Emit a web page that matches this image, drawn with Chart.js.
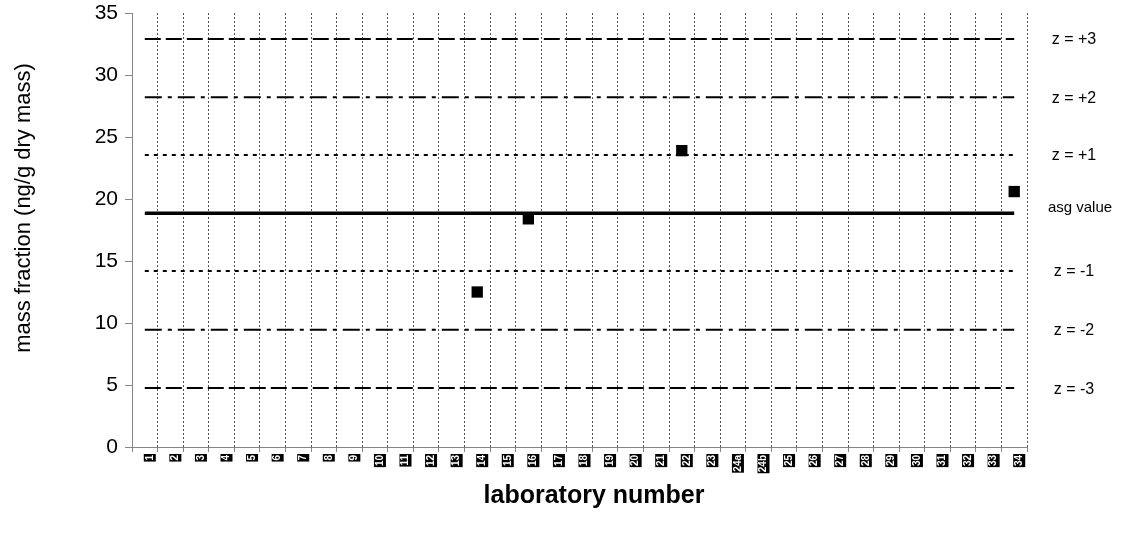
<!DOCTYPE html>
<html>
<head>
<meta charset="utf-8">
<script src="https://cdn.jsdelivr.net/npm/chart.js@4/dist/chart.umd.min.js"></script>
<style>
  body { margin: 0; background: #fff; }
</style>
</head>
<body>
<canvas id="chart" width="1128" height="541"></canvas>
<script>
// laboratory numbers on the x axis
const labs = ['1', '2', '3', '4', '5', '6', '7', '8', '9', '10', '11', '12', '13', '14', '15', '16',
  '17', '18', '19', '20', '21', '22', '23', '24a', '24b', '25', '26', '27', '28', '29', '30',
  '31', '32', '33', '34'];

// reported results
const resultLabs = ['14', '16', '22', '34'];
const results = [12.5, 18.4, 23.9, 20.6];

// assigned value and z-score limits
const refNames = ['z = +3', 'z = +2', 'z = +1', 'asg value', 'z = -1', 'z = -2', 'z = -3'];
const refValues = [32.9, 28.2, 23.55, 18.85, 14.2, 9.45, 4.75];
const refDash = [[16, 5], [17, 6, 4, 6], [4, 5], [], [4, 5], [17, 6, 4, 6], [16, 5]];

const yTicks = [0, 5, 10, 15, 20, 25, 30, 35];

const xTitle = 'laboratory number';
const yTitle = 'mass fraction (ng/g dry mass)';

const first = labs[0];
const last = labs[labs.length - 1];

const refSets = refNames.map((name, i) => ({
  label: name,
  data: [{ x: first, y: refValues[i] }, { x: last, y: refValues[i] }],
  borderColor: '#000',
  borderWidth: name === 'asg value' ? 3.5 : 2,
  borderDash: refDash[i],
  pointRadius: 0,
  fill: false,
  order: 2
}));

const pointSet = {
  label: 'results',
  data: resultLabs.map((l, i) => ({ x: l, y: results[i] })),
  showLine: false,
  pointStyle: 'rect',
  pointRadius: 8,
  backgroundColor: '#000',
  borderWidth: 0,
  order: 1
};

// axis titles and z labels to the right of the plot
const sideLabels = {
  id: 'sideLabels',
  afterDraw(chart) {
    const ctx = chart.ctx;
    const y = chart.scales.y;
    ctx.save();
    ctx.fillStyle = '#000';
    ctx.textAlign = 'center';
    ctx.textBaseline = 'middle';
    refNames.forEach((name, i) => {
      if (name === 'asg value') {
        ctx.font = '15px "Liberation Sans", Arial, sans-serif';
        ctx.fillText(name, 1080, y.getPixelForValue(refValues[i]) - 5);
      } else {
        ctx.font = '16px "Liberation Sans", Arial, sans-serif';
        ctx.fillText(name, 1074, y.getPixelForValue(refValues[i]) + 1);
      }
    });

    ctx.font = 'bold 25px "Liberation Sans", Arial, sans-serif';
    ctx.fillText(xTitle, 594, 496);

    ctx.translate(24, 208);
    ctx.rotate(-Math.PI / 2);
    ctx.font = '22px "Liberation Sans", Arial, sans-serif';
    ctx.fillText(yTitle, 0, 0);
    ctx.restore();
  }
};

new Chart(document.getElementById('chart'), {
  type: 'line',
  data: {
    labels: labs,
    datasets: [pointSet, ...refSets]
  },
  options: {
    responsive: false,
    animation: false,
    layout: { padding: { left: 0, right: 101, top: 13, bottom: 0 } },
    plugins: {
      legend: { display: false },
      tooltip: { enabled: false }
    },
    scales: {
      x: {
        type: 'category',
        offset: true,
        afterFit: (s) => { s.height = 94; },
        grid: {
          offset: true,
          color: '#555',
          lineWidth: 1,
          tickColor: '#868686',
          tickLength: 5,
          tickBorderDash: []
        },
        border: { color: '#868686', width: 1, dash: [2, 2] },
        ticks: {
          autoSkip: false,
          maxRotation: 90,
          minRotation: 90,
          padding: 3,
          color: '#fff',
          font: { family: '"Liberation Sans", Arial', size: 10, weight: 'bold', lineHeight: 1 },
          showLabelBackdrop: true,
          backdropColor: '#000',
          backdropPadding: 1
        }
      },
      y: {
        min: 0,
        max: 35,
        afterFit: (s) => { s.width = 132; },
        afterBuildTicks: (s) => { s.ticks = yTicks.map(v => ({ value: v })); },
        grid: {
          drawOnChartArea: false,
          tickColor: '#868686',
          tickLength: 7
        },
        border: { color: '#868686', width: 1 },
        ticks: {
          padding: 7,
          color: '#000',
          font: { family: '"Liberation Sans", Arial', size: 21, lineHeight: 0.5 }
        }
      }
    }
  },
  plugins: [sideLabels]
});
</script>
</body>
</html>
